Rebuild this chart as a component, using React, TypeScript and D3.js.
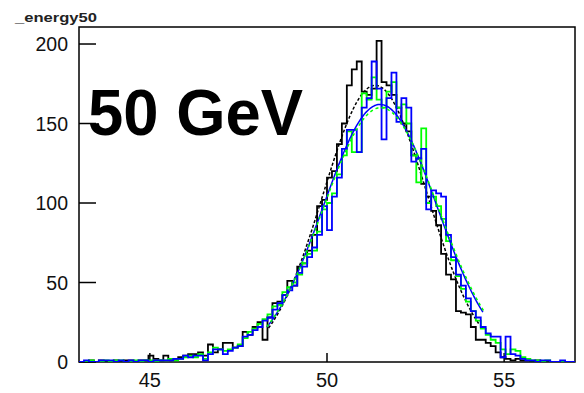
import React from "react";
import * as d3 from "d3";

// ---- data ----
const binStart = 43;
const binWidth = 0.14;
const xTicks = [45, 50, 55];
const yTicks = [0, 50, 100, 150, 200];

const blackCounts = [
  0, 0, 1, 0, 1, 0, 0, 1, 0, 1,
  1, 0, 1, 1, 4, 2, 1, 4, 2, 2,
  3, 4, 5, 5, 6, 4, 11, 6, 8, 12,
  12, 9, 10, 19, 17, 22, 25, 14, 28, 37,
  38, 42, 51, 48, 60, 62, 70, 80, 98, 102,
  116, 120, 137, 150, 174, 184, 189, 170, 168, 172,
  202, 176, 174, 168, 160, 150, 145, 130, 128, 112,
  104, 95, 86, 68, 55, 52, 32, 31, 30, 22,
  14, 14, 12, 10, 6, 3, 2, 1, 2, 1,
  1, 0, 1, 0, 0, 0, 0, 0, 0, 0,
];

const greenCounts = [
  0, 0, 1, 0, 0, 1, 0, 1, 1, 0,
  0, 1, 0, 1, 1, 0, 1, 1, 2, 1,
  2, 3, 4, 3, 5, 2, 6, 9, 8, 7,
  8, 9, 11, 15, 19, 21, 24, 27, 30, 35,
  36, 44, 47, 50, 55, 62, 68, 70, 82, 96,
  100, 106, 118, 130, 145, 132, 132, 169, 165, 179,
  165, 160, 170, 176, 160, 162, 150, 130, 113, 147,
  100, 104, 98, 90, 76, 64, 54, 46, 38, 32,
  26, 21, 17, 14, 12, 8, 5, 8, 7, 3,
  2, 1, 1, 0, 1, 0, 0, 0, 0, 0,
];

const blueCounts = [
  0, 1, 0, 0, 1, 1, 1, 0, 1, 0,
  1, 0, 1, 1, 0, 1, 1, 1, 1, 2,
  2, 4, 3, 4, 4, 1, 5, 8, 8, 5,
  7, 9, 10, 16, 17, 20, 22, 26, 28, 33,
  37, 42, 45, 48, 56, 60, 66, 72, 80, 98,
  83, 104, 116, 134, 146, 146, 132, 160, 166, 189,
  172, 140, 166, 182, 151, 166, 160, 126, 128, 134,
  96, 108, 106, 104, 80, 66, 55, 48, 40, 32,
  28, 22, 18, 16, 16, 3, 16, 5, 4, 2,
  1, 1, 0, 1, 1, 0, 0, 1, 0, 0,
];

// Gaussian fit parameters: [amplitude, mean, sigma, rangeLo, rangeHi]
const blackFit = [174, 51.36, 1.47, 48.35, 54.3];
const greenFit = [160, 51.52, 1.62, 48.3, 54.45];
const blueFit = [162, 51.5, 1.6, 48.3, 54.4];

const title = "_energy50";
const label = "50 GeV";

// ---- layout ----
const W = 584;
const H = 393;
const frame = { left: 79, right: 575, top: 27, bottom: 362 };

export default function App() {
  const x = d3.scaleLinear().domain([43, 57]).range([frame.left, frame.right]);
  const y = d3.scaleLinear().domain([0, 210.7]).range([frame.bottom, frame.top]);

  const histPath = (counts: number[]) => {
    const p = d3.path();
    p.moveTo(x(binStart), y(0));
    counts.forEach((c, i) => {
      const x0 = x(binStart + i * binWidth);
      const x1 = x(binStart + (i + 1) * binWidth);
      p.lineTo(x0, y(c));
      p.lineTo(x1, y(c));
    });
    p.lineTo(x(binStart + counts.length * binWidth), y(0));
    return p.toString();
  };

  const fitPath = (f: number[]) => {
    const [A, mu, s, lo, hi] = f;
    const pts = d3.range(0, 201).map((k) => {
      const xv = lo + ((hi - lo) * k) / 200;
      return [xv, A * Math.exp(-((xv - mu) ** 2) / (2 * s * s))] as [number, number];
    });
    return d3
      .line<[number, number]>()
      .x((d) => x(d[0]))
      .y((d) => y(d[1]))(pts) as string;
  };

  const font = "'Liberation Sans', Arial, Helvetica, sans-serif";

  return (
    <svg
      width={W}
      height={H}
      style={{ position: "absolute", left: 0, top: 0, background: "#fff" }}
      fontFamily={font}
    >
      <rect x={0} y={0} width={W} height={H} fill="#fff" />
      <defs>
        <clipPath id="frameClip">
          <rect x={frame.left} y={frame.top} width={frame.right - frame.left} height={frame.bottom - frame.top} />
        </clipPath>
      </defs>

      {/* frame */}
      <rect
        x={frame.left}
        y={frame.top}
        width={frame.right - frame.left}
        height={frame.bottom - frame.top}
        fill="none"
        stroke="#000"
        strokeWidth={1.5}
      />

      {/* y ticks */}
      {yTicks.map((t) => (
        <g key={"y" + t}>
          <line x1={frame.left} x2={frame.left + 17} y1={y(t)} y2={y(t)} stroke="#000" strokeWidth={1.5} />
          <text x={68} y={y(t)} dy="0.36em" textAnchor="end" fontSize={19.5} fill="#111">
            {t}
          </text>
        </g>
      ))}

      {/* x ticks */}
      {xTicks.map((t) => (
        <g key={"x" + t}>
          <line x1={x(t)} x2={x(t)} y1={frame.bottom} y2={frame.bottom - 9} stroke="#000" strokeWidth={1.5} />
          <text x={x(t)} y={387} textAnchor="middle" fontSize={20} fill="#111">
            {t}
          </text>
        </g>
      ))}

      <g clipPath="url(#frameClip)" fill="none" strokeLinejoin="miter">
        <path d={histPath(blackCounts)} stroke="#000" strokeWidth={1.8} />
        <path d={fitPath(blackFit)} stroke="#000" strokeWidth={1.5} strokeDasharray="3,2" />
        <path d={histPath(greenCounts)} stroke="#00ff00" strokeWidth={1.8} />
        <path d={histPath(blueCounts)} stroke="#0000ff" strokeWidth={1.8} />
        <path d={fitPath(blueFit)} stroke="#0000ff" strokeWidth={1.5} />
        <path d={fitPath(greenFit)} stroke="#00ff00" strokeWidth={1.5} strokeDasharray="3,3" />
      </g>

      {/* title */}
      <text x={15} y={22} fontSize={12} fontWeight="bold" fill="#222" textLength={82} lengthAdjust="spacingAndGlyphs">
        {title}
      </text>

      {/* big label */}
      <text x={88} y={135} fontSize={64} fontWeight="bold" fill="#000" textLength={215} lengthAdjust="spacingAndGlyphs">
        {label}
      </text>
    </svg>
  );
}
